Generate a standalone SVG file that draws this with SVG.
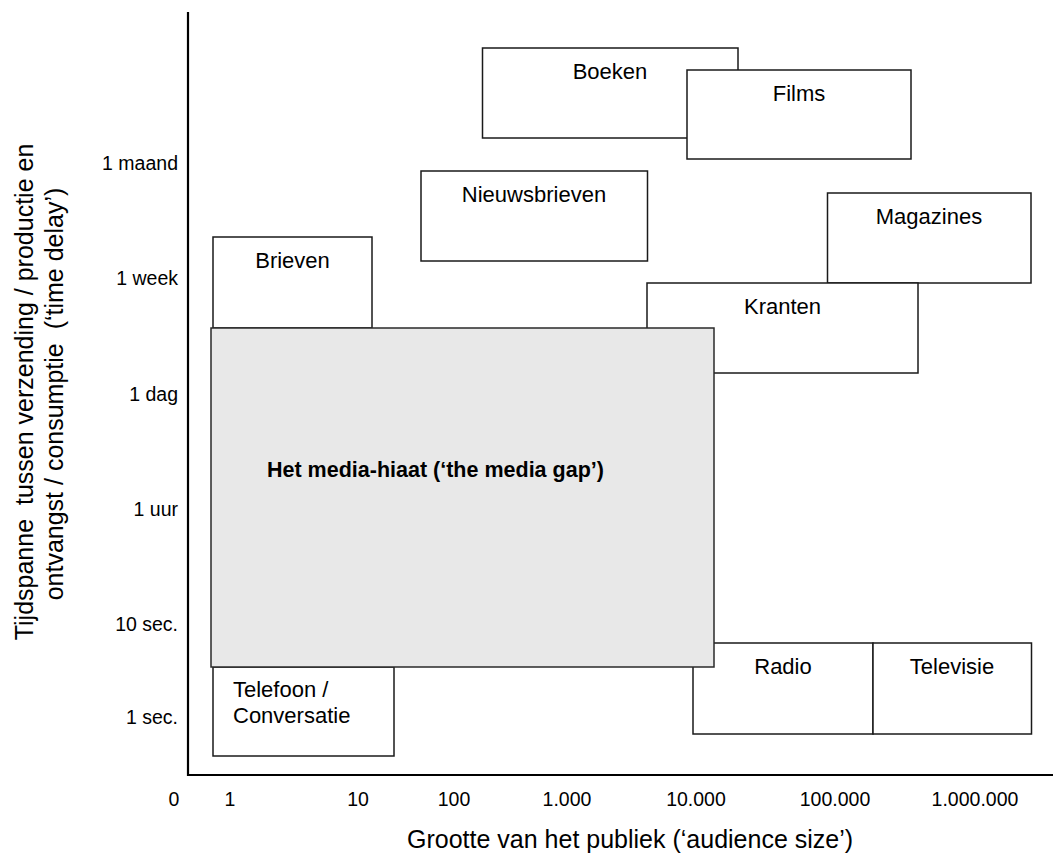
<svg xmlns="http://www.w3.org/2000/svg" width="1053" height="856" viewBox="0 0 1053 856">
<style>
.box{fill:#fff;stroke:#1a1a1a;stroke-width:1.5}
.gap{fill:#e8e8e8;stroke:#2a2a2a;stroke-width:1.5}
.axis{stroke:#000;stroke-width:2.2;fill:none}
text{font-family:"Liberation Sans",Arial,sans-serif;fill:#000}
.lbl{font-size:22px;text-anchor:middle}
.tick{font-size:19.5px}
.ty{text-anchor:end}
.tx{text-anchor:middle}
.title{font-size:25px}
.bold{font-size:21.5px;font-weight:bold}
</style>
<rect width="1053" height="856" fill="#fff"/>
<g id="axes">
<line class="axis" x1="188" y1="12" x2="188" y2="776"/>
<line class="axis" x1="187" y1="775" x2="1053" y2="775"/>
</g>
<g id="y-ticks">
<text class="tick ty" x="178" y="170">1 maand</text>
<text class="tick ty" x="178" y="285">1 week</text>
<text class="tick ty" x="178" y="401">1 dag</text>
<text class="tick ty" x="178" y="516">1 uur</text>
<text class="tick ty" x="178" y="631">10 sec.</text>
<text class="tick ty" x="178" y="724">1 sec.</text>
</g>
<g id="x-ticks">
<text class="tick tx" x="174" y="806">0</text>
<text class="tick tx" x="230" y="806">1</text>
<text class="tick tx" x="358" y="806">10</text>
<text class="tick tx" x="454" y="806">100</text>
<text class="tick tx" x="567" y="806">1.000</text>
<text class="tick tx" x="696" y="806">10.000</text>
<text class="tick tx" x="835" y="806">100.000</text>
<text class="tick tx" x="975" y="806">1.000.000</text>
</g>
<g id="axis-titles">
<text class="title" x="407" y="848">Grootte van het publiek (‘audience size’)</text>
<text class="title" xml:space="preserve" text-anchor="middle" transform="translate(33,392) rotate(-90)">Tijdspanne  tussen verzending / productie en</text>
<text class="title" xml:space="preserve" text-anchor="middle" transform="translate(63,394) rotate(-90)">ontvangst / consumptie  (‘time delay’)</text>
</g>
<g id="boeken">
<rect class="box" x="482.5" y="48" width="255.5" height="90"/>
<text class="lbl" x="610" y="79">Boeken</text>
</g>
<g id="films">
<rect class="box" x="687" y="70" width="224" height="89"/>
<text class="lbl" x="799" y="101">Films</text>
</g>
<g id="nieuwsbrieven">
<rect class="box" x="421" y="171" width="226.5" height="90"/>
<text class="lbl" x="534" y="202">Nieuwsbrieven</text>
</g>
<g id="magazines">
<rect class="box" x="827.5" y="193" width="203.5" height="90"/>
<text class="lbl" x="929" y="224">Magazines</text>
</g>
<g id="kranten">
<rect class="box" x="647" y="283" width="271" height="90"/>
<text class="lbl" x="782.5" y="314">Kranten</text>
</g>
<g id="brieven">
<rect class="box" x="213" y="237" width="159" height="91"/>
<text class="lbl" x="292.5" y="268">Brieven</text>
</g>
<g id="radio">
<rect class="box" x="693" y="643" width="180" height="91"/>
<text class="lbl" x="783" y="674">Radio</text>
</g>
<g id="televisie">
<rect class="box" x="873" y="643" width="158.5" height="91"/>
<text class="lbl" x="952" y="674">Televisie</text>
</g>
<g id="telefoon">
<rect class="box" x="213" y="667" width="181" height="89"/>
<text font-size="22" x="233" y="697">Telefoon /</text>
<text font-size="22" x="233" y="723">Conversatie</text>
</g>
<g id="media-gap">
<rect class="gap" x="211" y="328" width="503" height="339"/>
<text class="bold" x="267" y="477">Het media-hiaat (‘the media gap’)</text>
</g>
</svg>
